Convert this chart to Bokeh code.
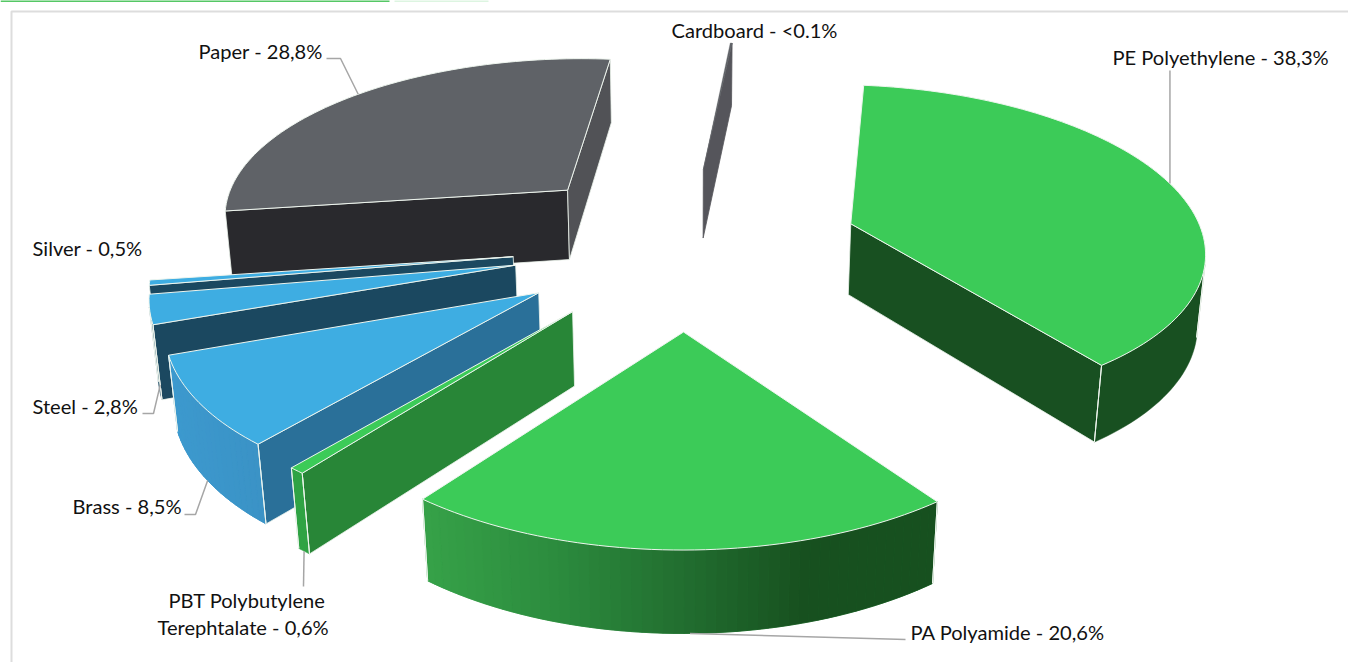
import numpy as np
from bokeh.core.properties import value
from bokeh.embed import file_html
from bokeh.models import ColumnDataSource
from bokeh.plotting import figure
from bokeh.resources import INLINE

# Materials, clockwise from the top of the pie
materials = ["PE Polyethylene", "PA Polyamide", "PBT Polybutylene Terephtalate", "Brass",
             "Steel", "Silver", "Paper", "Cardboard"]
shares = [38.3, 20.6, 0.6, 8.5, 2.8, 0.5, 28.8, 0.1]
explode = [0.4808, 0.5051, 0.5041, 0.5025, 0.5012, 0.5008, 0.5016, 0.4912]
radius_scale = [1.003, 1, 1, 1, 1, 1, 1, 1]
side_shift = [0, -0.012, 0, 0, 0, 0, 0, -0.008]

# Colours: top face, start cut wall, end cut wall, stops of the rim shading
top_colors = ["#3CCB58", "#3CCB58", "#3CCB58", "#3EADE2", "#3EADE2", "#3EADE2", "#5F6267", "#5F6267"]
cut0_colors = ["#185021", "#185021", "#288637", "#2A7099", "#1B4860", "#1B4860", "#29292D", "#55555B"]
cut1_colors = ["#185021", "#36A148", "#288637", "#2A7099", "#1B4860", "#1B4860", "#515256", "#55555B"]
rim_stops = [
    ["#185021", "#185021"],
    ["#36A148", "#2C8C3E", "#226F30", "#17501F", "#17501F"],
    ["#2FA344", "#2FA344"],
    ["#3C99CE", "#3B93C6"],
    ["#1B4860", "#1B4860"],
    ["#1B4860", "#1B4860"],
    ["#29292D", "#29292D"],
    ["#55555B", "#55555B"],
]
edge_widths = [1, 1, 1, 1, 1, 1, 1, 0]
paint_order = [7, 6, 5, 4, 3, 2, 1, 0]

# Text boxes: label, left edge, vertical centre
label_text = ["Paper - 28,8%", "Cardboard - <0.1%", "PE Polyethylene - 38,3%", "Silver - 0,5%",
              "Steel - 2,8%", "Brass - 8,5%", "PBT Polybutylene", "Terephtalate - 0,6%",
              "PA Polyamide - 20,6%"]
label_left = [198, 671, 1112, 32, 32, 72, 168, 157, 910]
label_mid = [50, 29, 56, 247, 405, 505, 599, 626, 631]

# Projection of the tilted, exploded pie
CX, CY, FOCAL, DIST, TILT, HEIGHT, START = 689.27, 243.53, 2344.1, 6.639, 0.4779, 0.2325, 0.1029


def project(x, y, z):
    yc = y * np.sin(TILT) + z * np.cos(TILT)
    zc = DIST + y * np.cos(TILT) - z * np.sin(TILT)
    return CX + FOCAL * x / zc, CY - FOCAL * yc / zc


fractions = np.array(shares) / sum(shares)
bounds = START + 2 * np.pi * np.concatenate([[0], np.cumsum(fractions)])


def apex_world(i):
    mid = (bounds[i] + bounds[i + 1]) / 2
    return explode[i] * np.sin(mid) + side_shift[i], explode[i] * np.cos(mid)


def rim_point(i, frac, level=0.0):
    th = bounds[i] + (bounds[i + 1] - bounds[i]) * frac
    ax, ay = apex_world(i)
    r = radius_scale[i]
    return project(ax + r * np.sin(th), ay + r * np.cos(th), -HEIGHT * level)


def apex_point(i, level=0.0):
    ax, ay = apex_world(i)
    return project(ax, ay, -HEIGHT * level)


def area(pts):
    a = np.array(pts)
    x, y = a[:, 0], a[:, 1]
    return np.sum(x * np.roll(y, -1) - np.roll(x, -1) * y) / 2


def mix(stops, t):
    rgb = np.array([[int(c[k:k + 2], 16) for k in (1, 3, 5)] for c in stops], float)
    pos = t * (len(stops) - 1)
    lo = min(int(pos), len(stops) - 2)
    col = rgb[lo] + (rgb[lo + 1] - rgb[lo]) * (pos - lo)
    return "#%02x%02x%02x" % tuple(int(round(v)) for v in col)


xs, ys, fills, lines, widths = [], [], [], [], []


def add(pts, fill, line, width):
    a = np.array(pts)
    xs.append(a[:, 0].tolist())
    ys.append(a[:, 1].tolist())
    fills.append(fill)
    lines.append(line)
    widths.append(width)


EDGE = "#EEF5EE"
for i in paint_order:
    steps = max(3, int(fractions[i] * 260))
    fr = np.linspace(0, 1, steps + 1)
    edge = edge_widths[i]

    # Cut walls that face the viewer
    cut0 = [apex_point(i), rim_point(i, 0), rim_point(i, 0, 1), apex_point(i, 1)]
    cut1 = [rim_point(i, 1), apex_point(i), apex_point(i, 1), rim_point(i, 1, 1)]
    for quad, col in ((cut0, cut0_colors[i]), (cut1, cut1_colors[i])):
        if area(quad) < 0:
            add(quad, col, col if edge == 0 else EDGE, 0.8)

    # Outer rim: one solid underlay, then bands shaded across the screen
    visible = [k for k in range(steps)
               if area([rim_point(i, fr[k]), rim_point(i, fr[k + 1]),
                        rim_point(i, fr[k + 1], 1), rim_point(i, fr[k], 1)]) < 0]
    if visible:
        lo, hi = visible[0], visible[-1] + 1
        shell = ([rim_point(i, f) for f in fr[lo:hi + 1]] +
                 [rim_point(i, f, 1) for f in fr[lo:hi + 1][::-1]])
        add(shell, rim_stops[i][0], rim_stops[i][0], 0.5)
        if len(set(rim_stops[i])) > 1:
            x_lo = min(rim_point(i, fr[k])[0] for k in visible)
            x_hi = max(rim_point(i, fr[k])[0] for k in visible)
            for k in visible:
                quad = [rim_point(i, fr[k]), rim_point(i, fr[k + 1]),
                        rim_point(i, fr[k + 1], 1), rim_point(i, fr[k], 1)]
                t = (quad[0][0] - x_lo) / max(x_hi - x_lo, 1)
                col = mix(rim_stops[i], t)
                add(quad, col, col, 0.8)
        if edge:
            for f in (fr[lo], fr[hi]):
                a, b = rim_point(i, f), rim_point(i, f, 1)
                add([a, b, a], EDGE, EDGE, 1.0)

    # Top face
    face = [apex_point(i)] + [rim_point(i, f) for f in fr]
    add(face, top_colors[i], EDGE if edge else top_colors[i], 1.0 if edge else 0.3)

p = figure(width=1348, height=662, x_range=(0, 1348), y_range=(662, 0),
           toolbar_location=None, output_backend="svg", min_border=0,
           x_axis_type=None, y_axis_type=None, outline_line_color=None,
           background_fill_color="white", border_fill_color="white")
p.grid.visible = False

# Frame of the slide and the accent rule along its top
p.line([11, 11, 1348], [662, 11, 11], line_color="#DDDDDD", line_width=2)
p.line([0, 389], [0.5, 0.5], line_color="#55C765", line_width=2)
p.line([394, 488], [0.5, 0.5], line_color="#DDF5E1", line_width=2)

p.patches("xs", "ys", source=ColumnDataSource(dict(xs=xs, ys=ys, fill=fills, line=lines, width=widths)),
          fill_color="fill", line_color="line", line_width="width")

# Leader lines from the labels to their slices
pe_anchor = rim_point(0, 0.5)
leaders = [
    [(326, 58), (340, 58), rim_point(6, 0.51)],
    [(pe_anchor[0], 70), pe_anchor],
    [(142, 413), (153, 413), rim_point(4, 0, 0.8)],
    [(184, 514), (195, 514), rim_point(3, 0.5, 1)],
    [(303, 586), rim_point(2, 0.5, 1)],
    [(905, 639), rim_point(1, 0.48, 1)],
]
for path in leaders:
    a = np.array(path)
    p.line(a[:, 0], a[:, 1], line_color="#A6A6A6", line_width=1.5)

p.text(label_left, label_mid, text=label_text, text_font=value("Lato"), text_font_size="20.1px",
       text_color="#111111", text_align="left", text_baseline="middle")

open("out.html", "w").write(file_html(p, INLINE))
